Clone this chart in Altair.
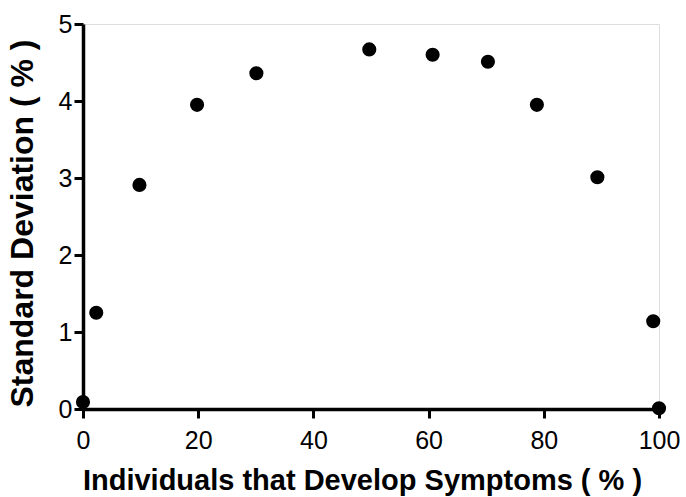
import altair as alt
import pandas as pd

x_vals = [0, 2.3, 9.8, 19.8, 30.1, 49.7, 60.7, 70.3, 78.8, 89.3, 99.0, 100]
y_vals = [0.09, 1.25, 2.91, 3.95, 4.36, 4.67, 4.60, 4.51, 3.95, 3.01, 1.14, 0.01]
x_ticks = [0, 20, 40, 60, 80, 100]
y_ticks = [0, 1, 2, 3, 4, 5]

df = pd.DataFrame({"x": x_vals, "y": y_vals})

FONT = "Liberation Sans"

chart = alt.Chart(df).mark_circle(size=200, color="black", opacity=1, clip=False).encode(
    x=alt.X("x:Q",
            scale=alt.Scale(domain=[0, 100], nice=False, zero=False),
            axis=alt.Axis(title="Individuals that Develop Symptoms ( % )", values=x_ticks,
                          grid=False, domainColor="black", domainWidth=3.5,
                          tickColor="black", tickWidth=3, tickSize=9,
                          labelFont=FONT, labelFontSize=25, labelColor="black",
                          labelPadding=10, labelFlush=False,
                          titleFont=FONT, titleFontSize=29, titleFontWeight="bold",
                          titleColor="black", titlePadding=13, titleX=279)),
    y=alt.Y("y:Q",
            scale=alt.Scale(domain=[0, 5], nice=False, zero=False),
            axis=alt.Axis(title="Standard Deviation ( % )", values=y_ticks,
                          grid=False, domainColor="black", domainWidth=3.5,
                          tickColor="black", tickWidth=3, tickSize=9,
                          labelFont=FONT, labelFontSize=25, labelColor="black",
                          labelPadding=2, labelFlush=False,
                          titleFont=FONT, titleFontSize=32, titleFontWeight="bold",
                          titleColor="black", titlePadding=19, titleY=199)),
).properties(
    width=576,
    height=385,
    autosize=alt.AutoSizeParams(type="none"),
    padding={"left": 83, "top": 24, "right": 27, "bottom": 88},
).configure_view(stroke=None).configure(background="white")

chart.save("out.html", embed_options={"renderer": "svg", "actions": False})
